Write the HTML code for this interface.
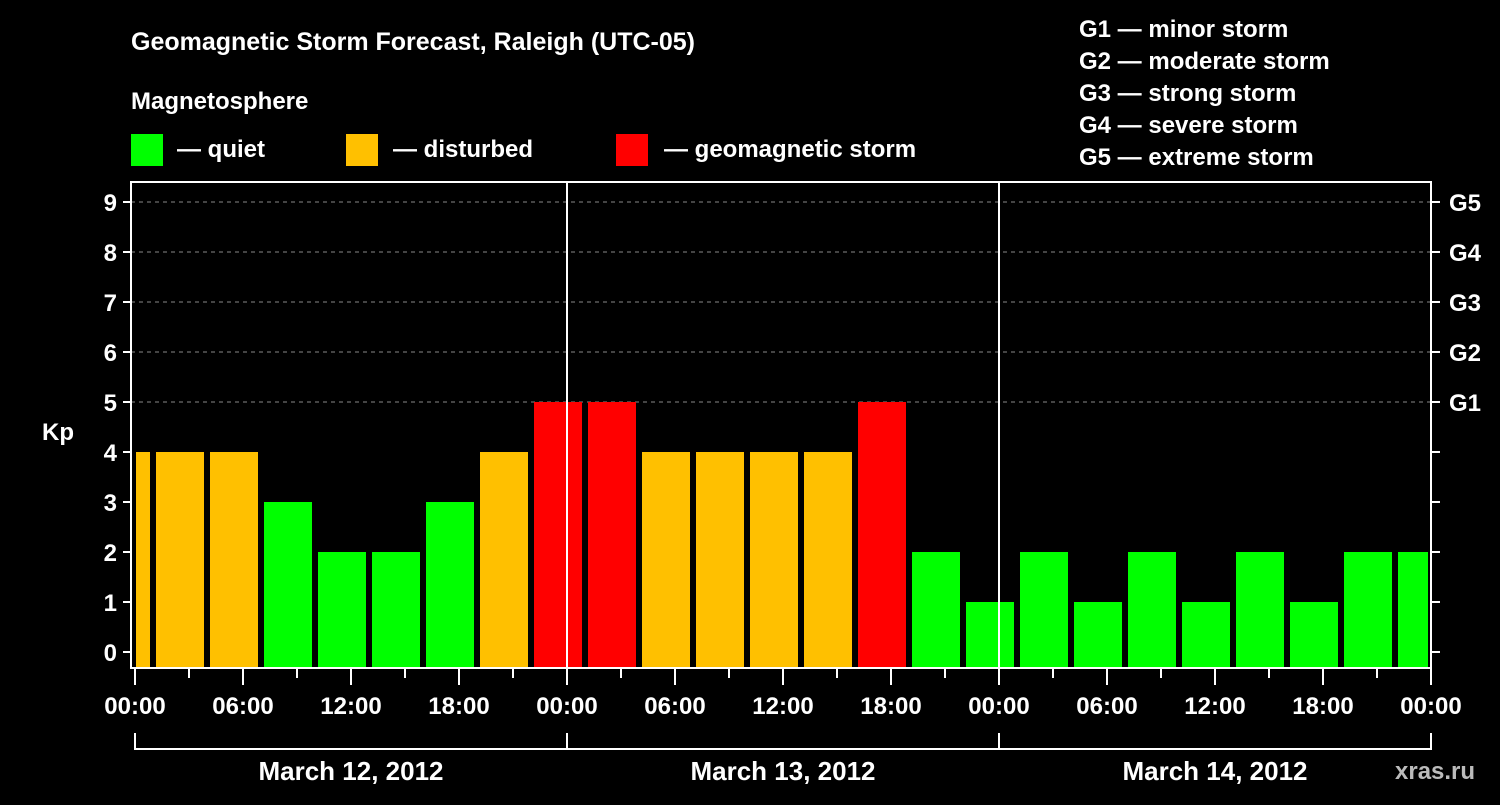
<!DOCTYPE html>
<html><head><meta charset="utf-8"><style>
body{margin:0;background:#000;}
svg text{font-family:"Liberation Sans",sans-serif;font-weight:bold;fill:#fff;}
</style></head><body>
<svg id="c" width="1500" height="800" xmlns="http://www.w3.org/2000/svg">
<rect width="1500" height="800" fill="#000"/>
<text x="131" y="50" font-size="25">Geomagnetic Storm Forecast, Raleigh (UTC-05)</text>
<text x="131" y="109" font-size="24">Magnetosphere</text>
<g><rect x="131" y="134" width="32" height="32" fill="#00ff00"/><text x="177" y="157" font-size="24">— quiet</text></g>
<g><rect x="346" y="134" width="32" height="32" fill="#ffc000"/><text x="393" y="157" font-size="24">— disturbed</text></g>
<g><rect x="616" y="134" width="32" height="32" fill="#ff0000"/><text x="664" y="157" font-size="24">— geomagnetic storm</text></g>
<g font-size="24">
<text x="1079" y="37">G1 — minor storm</text>
<text x="1079" y="69">G2 — moderate storm</text>
<text x="1079" y="101">G3 — strong storm</text>
<text x="1079" y="133">G4 — severe storm</text>
<text x="1079" y="165">G5 — extreme storm</text>
</g>
<g id="plot"></g>
<text x="1395" y="779" font-size="24" fill="#bbb" style="fill:#bbb">xras.ru</text>
</svg>
<script>
const values=[4,4,4,3,2,2,3,4,5,5,4,4,4,4,5,2,1,2,1,2,1,2,1,2,2];
const startHours=[-2,1,4,7,10,13,16,19,22,25,28,31,34,37,40,43,46,49,52,55,58,61,64,67,70];
const kpTicks=[0,1,2,3,4,5,6,7,8,9];
const gLabels=["G1","G2","G3","G4","G5"];
const hourLabels=["00:00","06:00","12:00","18:00"];
const dateLabels=["March 12, 2012","March 13, 2012","March 14, 2012"];
const NS="http://www.w3.org/2000/svg";
const L=131,R=1431,T=182,B=668,X0=135,PXH=18;
const x=h=>X0+h*PXH, y=v=>652-50*v;
const g=document.getElementById('plot');
function mk(t,a,p){const e=document.createElementNS(NS,t);for(const k in a)e.setAttribute(k,a[k]);(p||g).appendChild(e);return e;}
function col(v){return v>=5?"#ff0000":v>=4?"#ffc000":"#00ff00";}
// grid
kpTicks.forEach(k=>{if(k>=5){const e=mk('line',{x1:L,x2:R,y1:y(k),y2:y(k),stroke:'#888','stroke-dasharray':'4,4'});

}});
// bars
values.forEach((v,i)=>{let a=x(startHours[i])+3,b=x(startHours[i]+3)-3;a=Math.max(a,L+5);b=Math.min(b,R-3);
const r=mk('rect',{x:a,y:y(v),width:b-a,height:B-y(v),fill:col(v)});

});
// day lines
[1,2].forEach(d=>{const e=mk('line',{x1:x(24*d),x2:x(24*d),y1:T,y2:B,stroke:'#fff','stroke-width':2});

});
const fr=mk('rect',{x:L,y:T,width:R-L,height:B-T,fill:'none',stroke:'#fff','stroke-width':2});


kpTicks.forEach(k=>{mk('line',{x1:L-8,x2:L,y1:y(k),y2:y(k),stroke:'#fff','stroke-width':2});
mk('line',{x1:R,x2:R+9,y1:y(k),y2:y(k),stroke:'#fff','stroke-width':2});
const t=mk('text',{x:L-14,y:y(k)+9,'font-size':24,'text-anchor':'end'});t.textContent=k;

});
gLabels.forEach((s,i)=>{const t=mk('text',{x:1449,y:y(5+i)+9,'font-size':24});t.textContent=s;

});
const kp=mk('text',{x:42,y:440,'font-size':24});kp.textContent="Kp";


for(let h=0;h<=72;h+=3){mk('line',{x1:x(h),x2:x(h),y1:B,y2:B+(h%6==0?17:10),stroke:'#fff','stroke-width':2});
if(h%6==0){const t=mk('text',{x:x(h),y:714,'font-size':24,'text-anchor':'middle'});t.textContent=hourLabels[(h/6)%4];

}}
mk('line',{x1:X0,x2:x(72),y1:749,y2:749,stroke:'#fff','stroke-width':2});
for(let d=0;d<=3;d++)mk('line',{x1:x(24*d),x2:x(24*d),y1:733,y2:750,stroke:'#fff','stroke-width':2});
dateLabels.forEach((s,d)=>{const t=mk('text',{x:x(24*d+12),y:780,'font-size':26,'text-anchor':'middle'});t.textContent=s;

});
</script>
</body></html>
